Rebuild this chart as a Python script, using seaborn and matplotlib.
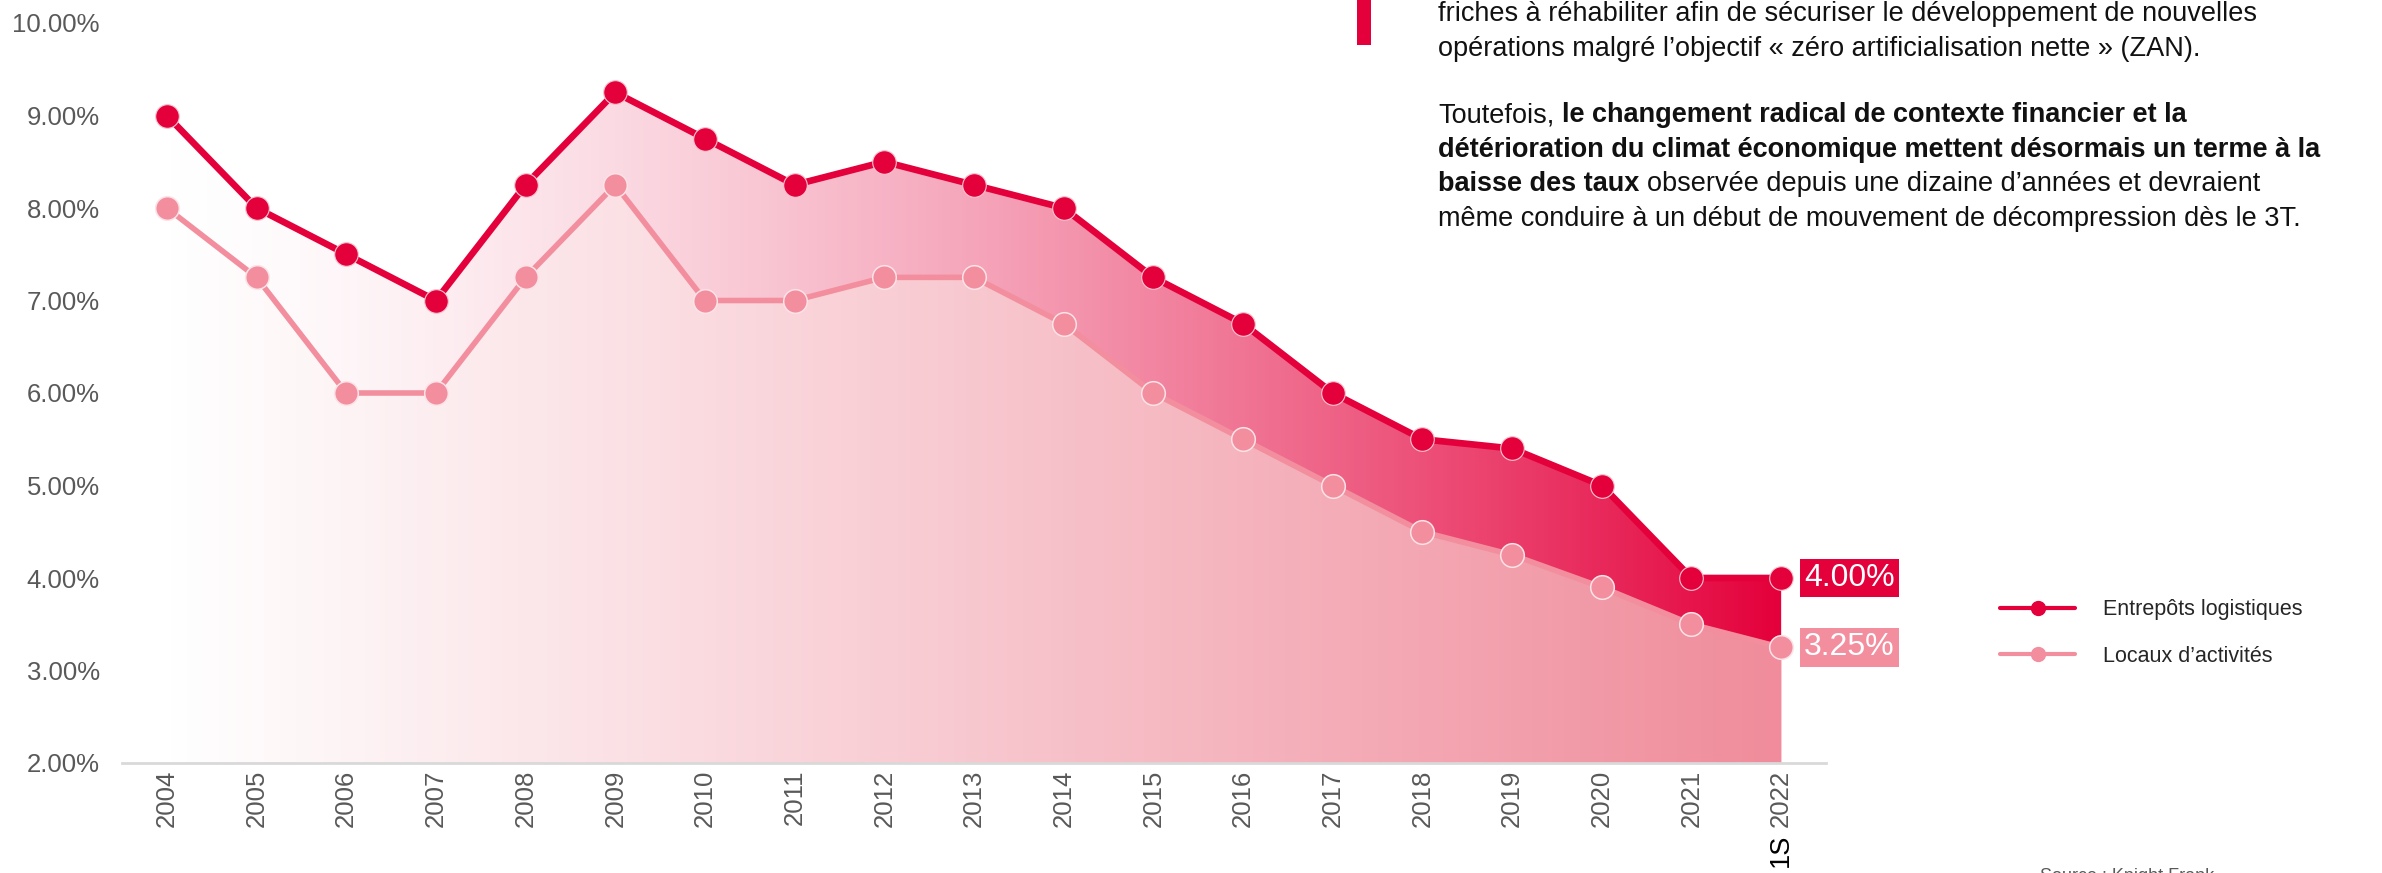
import numpy as np
import pandas as pd
import matplotlib
matplotlib.use('Agg')
import matplotlib.pyplot as plt
import seaborn as sns
from matplotlib.lines import Line2D
from matplotlib.patches import Rectangle

# data
years = ['2004', '2005', '2006', '2007', '2008', '2009', '2010', '2011', '2012', '2013',
         '2014', '2015', '2016', '2017', '2018', '2019', '2020', '2021', '2022']
entrepots = [9.0, 8.0, 7.5, 7.0, 8.25, 9.25, 8.75, 8.25, 8.5, 8.25,
             8.0, 7.25, 6.75, 6.0, 5.5, 5.4, 5.0, 4.0, 4.0]
locaux = [8.0, 7.25, 6.0, 6.0, 7.25, 8.25, 7.0, 7.0, 7.25, 7.25,
          6.75, 6.0, 5.5, 5.0, 4.5, 4.25, 3.9, 3.5, 3.25]
series_names = ['Entrepôts logistiques', 'Locaux d\u2019activités']
y_ticks = [2, 3, 4, 5, 6, 7, 8, 9, 10]

crimson = '#E4003B'
pink = '#F28E9E'
pink_fill = '#F08C9B'
grey = '#595959'

W, H = 2382, 873
sns.set_style('white')
plt.rcParams['font.family'] = ['Liberation Sans', 'DejaVu Sans']

pos = np.arange(len(years))
df = pd.DataFrame({
    'pos': np.concatenate([pos, pos]),
    'taux': entrepots + locaux,
    'serie': [series_names[0]] * len(years) + [series_names[1]] * len(years),
})

fig = plt.figure(figsize=(W / 100, H / 100), dpi=100)
ax = fig.add_axes([122 / W, 1 - 763 / H, (1826 - 122) / W, (763 - 23) / H])


def gradient_fill(values, color, power):
    rgb = np.array(matplotlib.colors.to_rgb(color))
    t = np.linspace(0, 1, 400) ** power
    img = (1 - t)[:, None] * np.ones(3) + t[:, None] * rgb
    poly = ax.fill_between(pos, values, 2, facecolor='none', edgecolor='none')
    im = ax.imshow(img[None, :, :], extent=(pos[0], pos[-1], 2, 10), aspect='auto',
                   origin='lower', zorder=1)
    im.set_clip_path(poly.get_paths()[0], transform=ax.transData)


gradient_fill(entrepots, crimson, 1.5)
gradient_fill(locaux, pink_fill, 1.05)

df_e = df[df['serie'] == series_names[0]]
df_l = df[df['serie'] == series_names[1]]
sns.lineplot(data=df_l, x='pos', y='taux', color=pink, linewidth=4.0, marker='o',
             markersize=17, markeredgecolor='#FBE3E8', markeredgewidth=1.1,
             ax=ax, legend=False, zorder=4)
sns.lineplot(data=df_e, x='pos', y='taux', color=crimson, linewidth=4.8, marker='o',
             markersize=17, markeredgecolor='#F7C6D1', markeredgewidth=0.8,
             ax=ax, legend=False, zorder=5)

ax.set_xlim(-0.5, len(years) - 0.5)
ax.set_ylim(2, 10)
ax.set_xticks(pos)
ax.set_xticklabels(years, rotation=90, color=grey, fontsize=18.5)
ax.set_yticks(y_ticks)
ax.set_yticklabels([f'{v:.2f}%' for v in y_ticks], color=grey, fontsize=18.5)
ax.tick_params(axis='both', length=0)
ax.tick_params(axis='y', pad=16)
ax.tick_params(axis='x', pad=5)
ax.set_xlabel('')
ax.set_ylabel('')
for s in ['left', 'right', 'top']:
    ax.spines[s].set_visible(False)
ax.spines['bottom'].set_color('#D9D9D9')
ax.spines['bottom'].set_linewidth(2)
ax.spines['bottom'].set_zorder(6)
ax.patch.set_alpha(0)

# "1S" prefix of the last tick label
ax.text(pos[-1], 1 - 834 / H, '1S',
        transform=matplotlib.transforms.blended_transform_factory(ax.transData, fig.transFigure),
        rotation=90, ha='center', va='top', fontsize=19.5, color='black')

# end value labels
for val, col in [(entrepots[-1], crimson), (locaux[-1], pink)]:
    ax.annotate(f'{val:.2f}%', xy=(pos[-1], val), xytext=(23, 0), textcoords='offset pixels',
                ha='left', va='center', fontsize=23, color='white', annotation_clip=False,
                bbox=dict(boxstyle='square,pad=0.13', fc=col, ec='none'))

# legend
handles = [Line2D([], [], color=crimson, lw=3, marker='o', markersize=10),
           Line2D([], [], color=pink, lw=3, marker='o', markersize=10)]
fig.legend(handles, series_names, loc='center left', bbox_to_anchor=(2000 / W, 1 - 633 / H),
           frameon=False, fontsize=15.5, handlelength=3.5, handletextpad=1.3,
           labelspacing=1.2, borderpad=0, borderaxespad=0)

# commentary text with bold runs
fig.add_artist(Rectangle((1357 / W, 1 - 45 / H), 14 / W, 45 / H, transform=fig.transFigure,
                         facecolor=crimson, edgecolor='none'))
para_lines = [
    [('friches à réhabiliter afin de sécuriser le développement de nouvelles', 'normal')],
    [('opérations malgré l\u2019objectif « zéro artificialisation nette » (ZAN).', 'normal')],
    [('Toutefois,', 'normal'), ('le changement radical de contexte financier et la', 'bold')],
    [('détérioration du climat économique mettent désormais un terme à la', 'bold')],
    [('baisse des taux', 'bold'), ('observée depuis une dizaine d\u2019années et devraient', 'normal')],
    [('même conduire à un début de mouvement de décompression dès le 3T.', 'normal')],
]
baselines = [21, 56, 122, 157, 191, 226]
fs = 19.5
space = 0.278 * fs * 100 / 72
renderer = fig.canvas.get_renderer()
for segs, b in zip(para_lines, baselines):
    x = 1438
    for s, w in segs:
        t = fig.text(x / W, 1 - b / H, s, fontsize=fs, weight=w, ha='left', va='baseline',
                     color='#111111')
        x = t.get_window_extent(renderer).x1 + space

fig.text(2040 / W, 1 - 868 / H, 'Source : Knight Frank', fontsize=13, color=grey,
         ha='left', va='top')

fig.savefig('out.png', dpi=100)
